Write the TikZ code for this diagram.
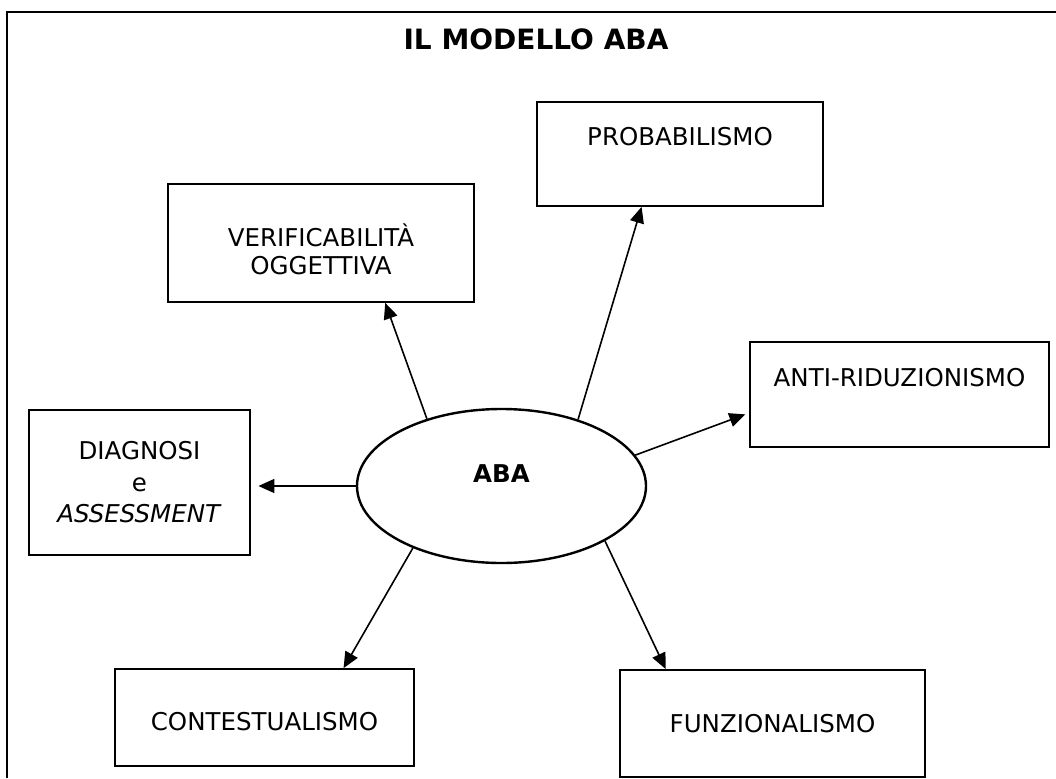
\documentclass[tikz,border=0pt]{standalone}
\usepackage{fontspec}
\setmainfont{DejaVu Sans}
\usetikzlibrary{shapes.geometric,arrows.meta}

\tikzset{
  box/.style={draw,line width=1.8pt,align=center,inner sep=0pt,font=\fontsize{24.5}{28}\selectfont},
  link/.style={line width=1.6pt,-{Triangle[length=16pt,width=14pt]}}
}

\begin{document}
\begin{tikzpicture}[x=1pt,y=-1pt]
        \useasboundingbox (0,0) rectangle (1056,778);
        \draw[line width=2.6pt] (7,778) |- (1056,12);

        \node[font=\fontsize{28}{32}\selectfont\bfseries] (titolo) at (536,39) {IL MODELLO ABA};

        \node[draw,ellipse,line width=2.4pt,minimum width=289pt,minimum height=154pt,inner sep=0pt,
              text depth=25.5pt,font=\fontsize{24.5}{28}\selectfont\bfseries] (aba) at (501.5,486) {ABA};

        \node[box,minimum width=286pt,minimum height=104pt,text depth=35pt] (prob) at (680,154) {PROBABILISMO};
        \node[box,minimum width=306pt,minimum height=118pt,text height=64pt] (verif) at (321,243) {VERIFICABILITÀ\\OGGETTIVA};
        \node[box,minimum width=299pt,minimum height=105pt,text depth=35pt] (anti) at (899.5,394.5) {ANTI-RIDUZIONISMO};
        \node[box,line width=2.8pt,minimum width=221pt,minimum height=145pt,font=\fontsize{24.5}{31.5}\selectfont] (diag) at (139.5,482.5) {DIAGNOSI\\e\\\textit{ASSESSMENT}};
        \node[box,minimum width=299pt,minimum height=97pt,text height=26.5pt] (cont) at (264.5,717.5) {CONTESTUALISMO};
        \node[box,minimum width=305pt,minimum height=107pt] (funz) at (772.5,723.5) {FUNZIONALISMO};

        \draw[link] (aba.138) -- (verif.-43);
        \draw[link] (aba.41) -- (prob.-126);
        \draw[link,shorten >=4pt] (aba.13) -- (anti.-173);
        \draw[link,shorten >=7pt] (aba.west) -- (aba.west -| diag.east);
        \draw[link] (aba.-145) -- (cont.32);
        \draw[link] (aba.-28) -- (funz.153);
\end{tikzpicture}
\end{document}
